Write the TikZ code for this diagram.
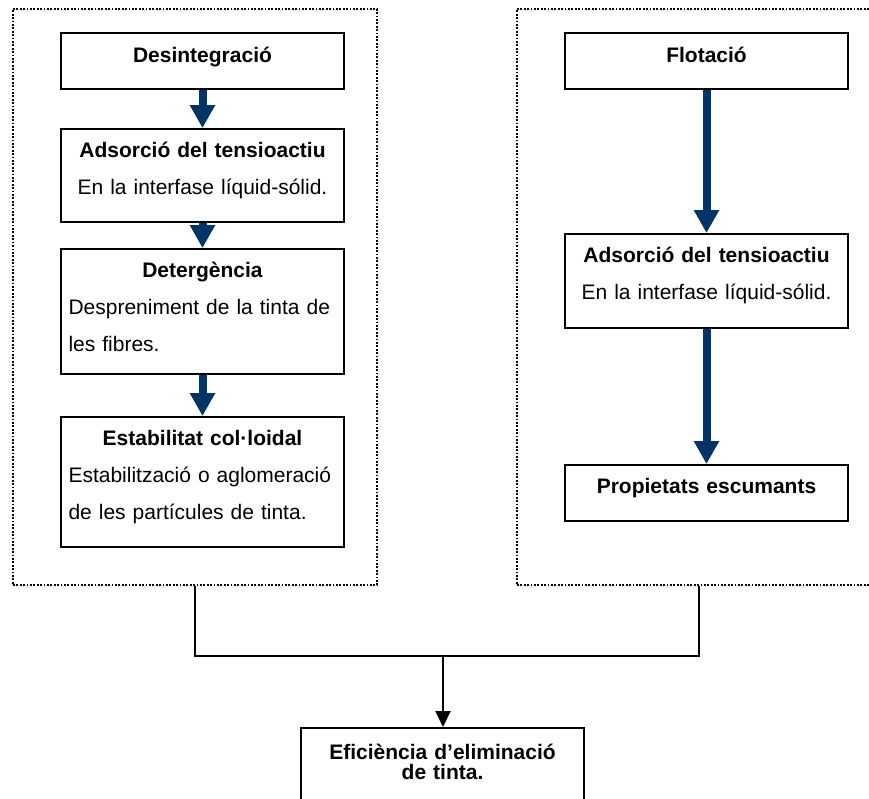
\documentclass[tikz,border=0pt]{standalone}
\usepackage{fontspec}
\setmainfont{Liberation Sans}
\usetikzlibrary{arrows.meta}
\definecolor{blaufosc}{RGB}{0,51,102}
\tikzset{%
    caixa/.style={draw, line width=1.8pt, anchor=north, inner xsep=7.5pt, inner ysep=0pt,
        text width=268pt, align=center, font=\fontsize{21}{37}\selectfont},
    grup/.style={draw, line width=1.8pt, dash pattern=on 1.8pt off 1.6pt, anchor=north,
        inner sep=0pt, minimum width=364pt, minimum height=576pt},
    fletxa/.style={blaufosc, line width=8pt, -{Triangle[width=24pt,length=23pt]}},
    linia/.style={line width=2pt}
}
\newcommand{\dalt}[1]{\rule{0pt}{#1pt}}
\newcommand{\baix}[1]{\rule[-#1pt]{0pt}{#1pt}}

\begin{document}
\begin{tikzpicture}[x=1pt,y=-1pt]
    \useasboundingbox (0,0) rectangle (869,798);
    % els dos blocs puntejats
    \node[grup] (grupA) at (195,8) {};
    \node[grup] (grupB) at (699,8) {};
    % desintegracio
    \node[caixa] (desint) at (202.5,32) {\dalt{30}\textbf{Desintegració}\baix{26}};
    \node[caixa] (adsA) at (202.5,128) {\dalt{29}\textbf{Adsorció del tensioactiu}\\
        En la interfase líquid-sólid.\baix{27}};
    \node[caixa] (deter) at (202.5,248) {\dalt{29}\textbf{Detergència}\\
        \makebox[\linewidth][s]{Despreniment de la tinta de}\\
        \makebox[\linewidth][l]{les fibres.}\baix{22}};
    \node[caixa] (estab) at (202.5,416) {\dalt{29}\textbf{Estabilitat col·loidal}\\
        \makebox[\linewidth][s]{Estabilització o aglomeració}\\
        \makebox[\linewidth][l]{de les partícules de tinta.}\baix{27}};
    % flotacio
    \node[caixa] (flot) at (706.5,32) {\dalt{30}\textbf{Flotació}\baix{26}};
    \node[caixa] (adsB) at (706.5,233) {\dalt{29}\textbf{Adsorció del tensioactiu}\\
        En la interfase líquid-sólid.\baix{28}};
    \node[caixa] (escum) at (706.5,464) {\dalt{29}\textbf{Propietats escumants}\baix{27}};
    % resultat
    \node[caixa, font=\fontsize{21}{20}\selectfont] (efic) at (442.5,727)
        {\dalt{32}\textbf{Eficiència d’eliminació}\\ \textbf{de tinta.}\baix{50}};
    \coordinate (junt) at (443,656);

    \draw[fletxa] (desint.south) -- (adsA.north);
    \draw[fletxa] (adsA.south) -- (deter.north);
    \draw[fletxa] (deter.south) -- (estab.north);
    \draw[fletxa] (flot.south) -- (adsB.north);
    \draw[fletxa] (adsB.south) -- (escum.north);

    \draw[linia] (grupA.south) |- (junt) -| (grupB.south);
    \draw[linia, -{Triangle[width=15pt,length=16pt]}] (junt) -- (junt |- efic.north);
\end{tikzpicture}
\end{document}
